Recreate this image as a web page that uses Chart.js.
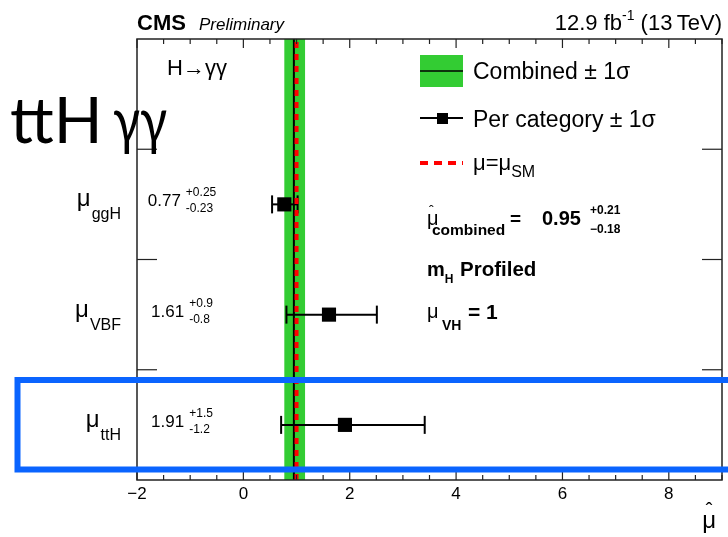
<!DOCTYPE html>
<html><head><meta charset="utf-8">
<script src="https://cdn.jsdelivr.net/npm/chart.js@4"></script>
<style>html,body{margin:0;padding:0;background:#fff}canvas{display:block}</style>
</head><body>
<canvas id="c" width="728" height="537"></canvas>
<script>
// Signal strength per production category (best fit, +1σ / -1σ)
const categories = ['ggH', 'VBF', 'ttH'];
const muValues = [0.77, 1.61, 1.91];
const errUp = [0.25, 0.9, 1.5];
const errDown = [0.23, 0.8, 1.2];

// Combined fit and SM expectation
const muCombined = 0.95;
const combinedUp = 0.21;
const combinedDown = 0.18;
const muSM = 1;

// Axis ranges and labelled ticks
const xTickValues = [-2, 0, 2, 4, 6, 8];
const xRange = [-2, 9];
const yRange = [0, 4];

const SANS = '"Liberation Sans", Arial, Helvetica, sans-serif';
const GREEN = 'rgb(51,204,51)';
const RED = 'rgb(255,0,0)';

// vertical slot for each category: first at the top
const slotY = i => categories.length - i - 0.5;

function txt(ctx, s, x, y, font, align) {
  ctx.font = font;
  ctx.textAlign = align || 'left';
  ctx.textBaseline = 'alphabetic';
  ctx.fillText(s, x, y);
  return ctx.measureText(s).width;
}
function seg(ctx, x1, y1, x2, y2) {
  ctx.beginPath(); ctx.moveTo(x1, y1); ctx.lineTo(x2, y2); ctx.stroke();
}
function fmtMinus(v) { return String(v).replace('-', '\u2212'); }

const decor = {
  id: 'decor',
  beforeDatasetsDraw(chart) {
    const ctx = chart.ctx, xs = chart.scales.x, ys = chart.scales.y;
    const { top, bottom } = chart.chartArea;
    ctx.save();
    // combined ±1σ band
    const x1 = xs.getPixelForValue(muCombined - combinedDown);
    const x2 = xs.getPixelForValue(muCombined + combinedUp);
    ctx.fillStyle = GREEN;
    ctx.fillRect(x1, top, x2 - x1, bottom - top);
    // per-category error bars with end caps
    ctx.strokeStyle = '#000';
    ctx.lineWidth = 2;
    categories.forEach((c, i) => {
      const py = ys.getPixelForValue(slotY(i));
      const lo = xs.getPixelForValue(muValues[i] - errDown[i]);
      const hi = xs.getPixelForValue(muValues[i] + errUp[i]);
      seg(ctx, lo, py, hi, py);
      seg(ctx, lo, py - 9, lo, py + 9);
      seg(ctx, hi, py - 9, hi, py + 9);
    });
    ctx.restore();
  },
  afterDraw(chart) {
    const ctx = chart.ctx, xs = chart.scales.x, ys = chart.scales.y;
    const { left, right, top, bottom } = chart.chartArea;
    ctx.save();
    ctx.fillStyle = '#000';

    // frame
    ctx.strokeStyle = '#222';
    ctx.lineWidth = 1.5;
    ctx.strokeRect(left, top, right - left, bottom - top);

    // x ticks (bottom and top), minor every 0.5
    ctx.lineWidth = 1.2;
    for (let v = xRange[0]; v < xRange[1] + 1e-9; v += 0.5) {
      const px = xs.getPixelForValue(v);
      const major = Math.abs(v / 2 - Math.round(v / 2)) < 1e-9;
      const len = major ? 9 : 5;
      seg(ctx, px, bottom, px, bottom - len);
      seg(ctx, px, top, px, top + len);
    }
    // y ticks separating the categories
    for (let v = yRange[0] + 1; v < yRange[1]; v++) {
      const py = ys.getPixelForValue(v);
      seg(ctx, left, py, left + 20, py);
      seg(ctx, right, py, right - 20, py);
    }

    // category labels and values
    categories.forEach((c, i) => {
      const py = ys.getPixelForValue(slotY(i));
      // μ_cat, right aligned left of the frame
      ctx.font = '16px ' + SANS;
      const wSub = ctx.measureText(c).width;
      const xEnd = 121;
      txt(ctx, c, xEnd, py + 15, '16px ' + SANS, 'right');
      txt(ctx, '\u03bc', xEnd - wSub - 1, py + 2, '24px ' + SANS, 'right');

      // value with asymmetric errors
      const main = String(muValues[i]);
      const up = '+' + String(errUp[i]);
      const dn = '-' + String(errDown[i]);
      ctx.font = '17px ' + SANS;
      const wm = ctx.measureText(main).width;
      ctx.font = '12px ' + SANS;
      const ws = Math.max(ctx.measureText(up).width, ctx.measureText(dn).width);
      const total = wm + 5 + ws;
      const x0 = 182 - total / 2;
      txt(ctx, main, x0, py + 2, '17px ' + SANS);
      txt(ctx, up, x0 + wm + 5, py - 8, '12px ' + SANS);
      txt(ctx, dn, x0 + wm + 5, py + 8, '12px ' + SANS);
    });

    // process label
    txt(ctx, 'H\u2192\u03b3\u03b3', 167, 75, '22px ' + SANS);

    // legend: combined band
    ctx.fillStyle = GREEN;
    ctx.fillRect(420, 55, 43, 32);
    ctx.strokeStyle = '#000';
    ctx.lineWidth = 1.5;
    seg(ctx, 420, 71, 463, 71);
    ctx.fillStyle = '#000';
    txt(ctx, 'Combined \u00b1 1\u03c3', 473, 79, '23px ' + SANS);
    // legend: per category
    ctx.lineWidth = 2;
    seg(ctx, 420, 118, 463, 118);
    ctx.fillRect(437, 113, 11, 11);
    txt(ctx, 'Per category \u00b1 1\u03c3', 473, 127, '23px ' + SANS);
    // legend: SM line
    ctx.strokeStyle = RED;
    ctx.lineWidth = 4;
    ctx.setLineDash([8, 6]);
    seg(ctx, 420, 163, 463, 163);
    ctx.setLineDash([]);
    let w = txt(ctx, '\u03bc=\u03bc', 473, 170, '22px ' + SANS);
    txt(ctx, 'SM', 473 + w, 177, '16px ' + SANS);

    // combined result
    const B = 'bold ';
    txt(ctx, '\u03bc', 427, 225, '20px ' + SANS);
    txt(ctx, '\u02c6', 429, 216, '14px ' + SANS);
    txt(ctx, 'combined', 432, 235, B + '15.5px ' + SANS);
    txt(ctx, '=', 510, 225, B + '19px ' + SANS);
    txt(ctx, String(muCombined), 542, 225, B + '20px ' + SANS);
    txt(ctx, '+' + String(combinedUp), 590, 214, B + '12px ' + SANS);
    txt(ctx, '\u2212' + String(combinedDown), 590, 233, B + '12px ' + SANS);

    // fit configuration
    w = txt(ctx, 'm', 427, 276, B + '20px ' + SANS);
    txt(ctx, 'H', 427 + w, 283, B + '12px ' + SANS);
    txt(ctx, 'Profiled', 460, 276, B + '20.5px ' + SANS);
    txt(ctx, '\u03bc', 427, 318, '20px ' + SANS);
    txt(ctx, 'VH', 442, 330, B + '14px ' + SANS);
    txt(ctx, '= 1', 468, 319, B + '21px ' + SANS);

    // header
    w = txt(ctx, 'CMS', 137, 30, B + '22px ' + SANS);
    txt(ctx, 'Preliminary', 199, 30, 'italic 17px ' + SANS);
    ctx.font = '22px ' + SANS;
    const tail = ' (13\u2009TeV)';
    const wTail = ctx.measureText(tail).width;
    ctx.font = '14px ' + SANS;
    const wSup = ctx.measureText('-1').width;
    ctx.font = '22px ' + SANS;
    const wHead = ctx.measureText('12.9 fb').width;
    const xr = right;
    txt(ctx, tail, xr, 30, '22px ' + SANS, 'right');
    txt(ctx, '-1', xr - wTail - wSup, 20, '14px ' + SANS);
    txt(ctx, '12.9 fb', xr - wTail - wSup - wHead, 30, '22px ' + SANS);

    // x axis title
    txt(ctx, '\u03bc', 716, 528, '24px ' + SANS, 'right');
    txt(ctx, '\u02c6', 709, 517, '20px ' + SANS, 'center');

    // highlighted row
    ctx.strokeStyle = '#0a64ff';
    ctx.lineWidth = 6;
    ctx.strokeRect(17.5, 380, 740, 89.5);

    // slide title
    ctx.fillStyle = '#000';
    w = txt(ctx, 'ttH ', 10, 143, '64px Lato, ' + SANS);
    ctx.translate(10 + w - 6, 143);
    ctx.scale(0.78, 1);
    txt(ctx, '\u03b3\u03b3', 0, 0, '64px Lato, ' + SANS);
    ctx.restore();
  }
};

new Chart(document.getElementById('c'), {
  type: 'scatter',
  data: {
    datasets: [
      {
        label: 'Per category',
        data: categories.map((c, i) => ({ x: muValues[i], y: slotY(i) })),
        pointStyle: 'rect',
        pointRadius: 10,
        backgroundColor: '#000',
        borderColor: '#000',
        borderWidth: 0
      },
      {
        label: 'SM',
        type: 'line',
        data: [{ x: muSM, y: yRange[0] }, { x: muSM, y: yRange[1] }],
        borderColor: RED,
        borderWidth: 4,
        borderDash: [6, 6],
        pointRadius: 0,
        fill: false
      },
      {
        label: 'Combined',
        type: 'line',
        data: [{ x: muCombined, y: yRange[0] }, { x: muCombined, y: yRange[1] }],
        borderColor: '#000',
        borderWidth: 2,
        pointRadius: 0,
        fill: false
      }
    ]
  },
  options: {
    responsive: false,
    animation: false,
    events: [],
    layout: { autoPadding: false, padding: { left: 137, top: 39, right: 6, bottom: 0 } },
    plugins: { legend: { display: false }, tooltip: { enabled: false } },
    scales: {
      x: {
        type: 'linear',
        min: xRange[0], max: xRange[1],
        grid: { display: false, drawTicks: false },
        border: { display: false },
        afterBuildTicks: s => { s.ticks = xTickValues.map(v => ({ value: v })); },
        afterFit: s => { s.height = 57; },
        ticks: {
          padding: 4,
          color: '#000',
          font: { family: SANS, size: 17 },
          maxRotation: 0,
          callback: v => fmtMinus(v)
        }
      },
      y: {
        type: 'linear',
        min: yRange[0], max: yRange[1],
        display: false
      }
    }
  },
  plugins: [decor]
});
</script>
</body></html>
